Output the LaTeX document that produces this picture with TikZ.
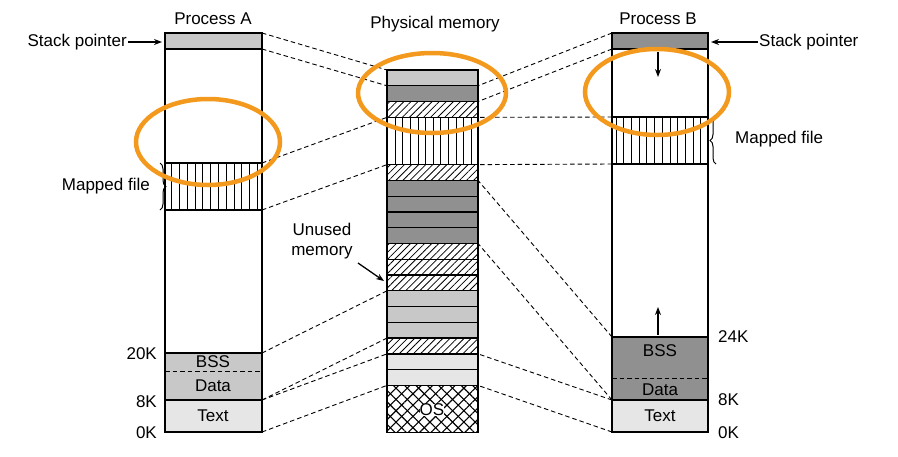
\documentclass[tikz,border=0pt]{standalone}
\usepackage{fontspec}
\setmainfont{Liberation Sans}
\usetikzlibrary{calc,patterns.meta,decorations.pathreplacing,arrows.meta}
\definecolor{lgray}{HTML}{C8C8C8}
\definecolor{dgray}{HTML}{909090}
\definecolor{vlgray}{HTML}{E6E6E6}
\definecolor{ring}{HTML}{F39A1E}
\tikzset{
  strip/.style = {draw, line width=1.3pt},
  link/.style = {line width=0.9pt, dash pattern=on 4.5pt off 3pt},
  hatch/.style = {pattern={Lines[angle=45,distance=5pt,line width=0.8pt]}},
  xhatch/.style = {pattern={Lines[angle=45,distance=8pt,line width=1.1pt]},
    postaction={pattern={Lines[angle=-45,distance=8pt,line width=1.1pt]}}},
  ring/.style = {draw=ring, line width=4.5pt},
  lbl/.style = {font=\fontsize{17}{20}\selectfont, inner sep=1pt},
  ptr/.style = {-{Stealth[length=8pt,width=6pt]}, line width=1.3pt}
}
\begin{document}
\begin{tikzpicture}[x=1pt, y=-1pt]
    \useasboundingbox (0,0) rectangle (898,456);
    % physical memory strips
    \foreach \k in {0,...,23} {
      \coordinate (p\k) at (387,70+15.77*\k);
      \coordinate (q\k) at (478,70+15.77*\k);
    }
    \foreach \k in {0,14,15,16}
      \draw [strip, fill=lgray] (p\k) rectangle ($(q\k)+(0,15.77)$);
    \foreach \k in {1,7,8,9,10}
      \draw [strip, fill=dgray] (p\k) rectangle ($(q\k)+(0,15.77)$);
    \foreach \k in {18,19}
      \draw [strip, fill=vlgray] (p\k) rectangle ($(q\k)+(0,15.77)$);
    \foreach \k in {2,6,11,12,13,17}
      \draw [strip, hatch] (p\k) rectangle ($(q\k)+(0,15.77)$);
    \draw [strip, xhatch] (p20) rectangle (q23);
    \node [lbl, fill=white, inner sep=0pt] (os) at (432,410) {OS};
    % mapped file grids
    \begin{scope}
      \clip (p3) rectangle (q6);
      \draw [line width=0.8pt, step=7.6] (380,100) grid (490,170);
    \end{scope}
    \draw [strip] (p3) rectangle (q6);
    \begin{scope}
      \clip (165,163) rectangle (262,210);
      \draw [line width=0.8pt, step=7.8] (160,156) grid (270,215);
    \end{scope}
    \begin{scope}
      \clip (612,117) rectangle (708,164);
      \draw [line width=0.8pt, step=7.7] (600,115.5) grid (715,170);
    \end{scope}
    \draw [line width=1.3pt] (p0) rectangle (q23);
    % process A
    \draw [strip, fill=lgray] (165,33) rectangle (262,49);
    \draw [strip] (165,163) rectangle (262,210);
    \draw [strip, fill=lgray] (165,353) rectangle (262,400);
    \draw [strip, fill=vlgray] (165,400) rectangle (262,432);
    \draw [link] (165,371) -- (262,371);
    \draw [line width=1.3pt] (165,33) rectangle (262,432);
    \node [lbl] (bssA) at (213,362) {BSS};
    \node [lbl] (dataA) at (213,386) {Data};
    \node [lbl] (textA) at (213,416) {Text};
    % process B
    \draw [strip, fill=dgray] (612,33) rectangle (708,49);
    \draw [strip] (612,117) rectangle (708,164);
    \draw [strip, fill=dgray] (612,337) rectangle (708,400);
    \draw [strip, fill=vlgray] (612,400) rectangle (708,432);
    \draw [link] (612,378) -- (708,378);
    \draw [line width=1.3pt] (612,33) rectangle (708,432);
    \node [lbl] (bssB) at (660,351) {BSS};
    \node [lbl] (dataB) at (660,390) {Data};
    \node [lbl] (textB) at (660,416) {Text};
    \draw [ptr] (658,52) -- (658,77);
    \draw [ptr] (658,335) -- (658,307);
    % end points of the mappings
    \foreach \n/\y in {0/33,1/49,2/163,3/210,4/353,5/400,6/432}
      \coordinate (a\n) at (262,\y);
    \foreach \n/\y in {0/33,1/49,2/117,3/164,4/337,5/400,6/432}
      \coordinate (b\n) at (612,\y);
    \foreach \u/\v in {a0/p0,a1/p1,a2/p3,a3/p6,a4/p14,a5/p17,a5/p18,a6/p20,
                       b0/q1,b1/q2,b2/q3,b3/q6,b4/q7,b5/q11,b5/q18,b6/q20}
      \draw [link] (\u) -- (\v);
    % titles and labels
    \node [lbl] (titleA) at (213,19) {Process A};
    \node [lbl] (titleP) at (435,24) {Physical memory};
    \node [lbl] (titleB) at (658,19) {Process B};
    \node [lbl, anchor=east] (spA) at (128,42) {Stack pointer};
    \node [lbl, anchor=west] (spB) at (758,42) {Stack pointer};
    \coordinate (spAend) at (162,42);
    \coordinate (spBend) at (711,42);
    \draw [ptr] (spA) -- (spAend);
    \draw [ptr] (spB) -- (spBend);
    \draw [line width=1pt, decorate, decoration={brace, amplitude=6pt}]
      (160,163) -- (160,210);
    \node [lbl, anchor=east] (mfA) at (151,186) {Mapped file};
    \draw [line width=1pt, decorate, decoration={brace, amplitude=6pt}]
      (716,164) -- (716,117);
    \node [lbl, anchor=west] (mfB) at (734,139) {Mapped file};
    \node [lbl, align=center] (unused) at (322,241) {Unused\\memory};
    \coordinate (unusedend) at (384,281);
    \draw [ptr] (358,263) -- (unusedend);
    \node [lbl, anchor=east] at (158,354) {20K};
    \node [lbl, anchor=east] at (158,402) {8K};
    \node [lbl, anchor=east] at (158,433) {0K};
    \node [lbl, anchor=west] at (717,337) {24K};
    \node [lbl, anchor=west] at (717,400) {8K};
    \node [lbl, anchor=west] at (717,433) {0K};
    % highlight rings
    \draw [ring] (432,93) ellipse [x radius=74, y radius=40];
    \draw [ring] (208,142) ellipse [x radius=72, y radius=43];
    \draw [ring] (657,92) ellipse [x radius=72, y radius=43];
\end{tikzpicture}
\end{document}
